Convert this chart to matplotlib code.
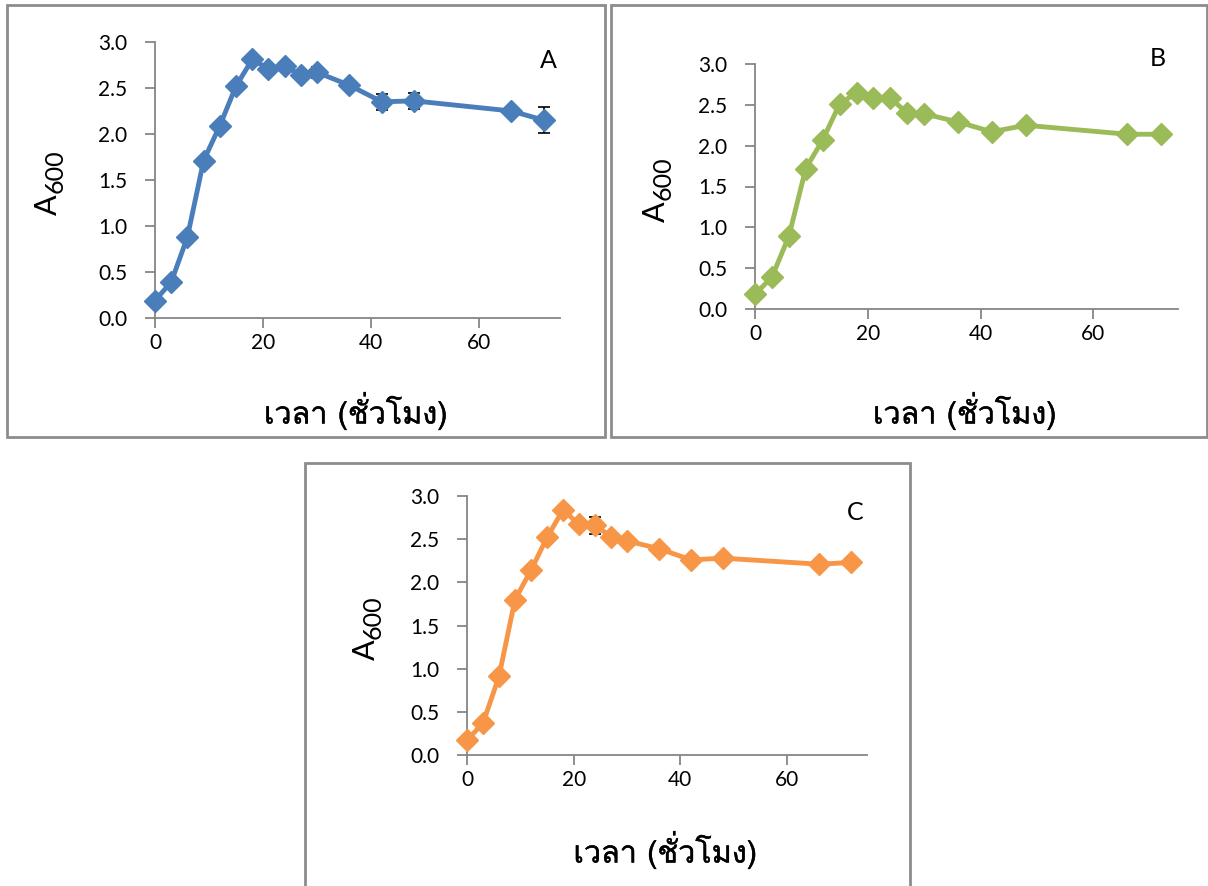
import matplotlib
matplotlib.use('Agg')
import matplotlib.pyplot as plt
from matplotlib.patches import Rectangle
import matplotlib.patheffects as pe

plt.rcParams['font.family'] = ['Lato', 'Loma', 'DejaVu Sans']

W, H = 1208, 886

hours = [0, 3, 6, 9, 12, 15, 18, 21, 24, 27, 30, 36, 42, 48, 66, 72]
a600_A = [0.19, 0.39, 0.88, 1.71, 2.09, 2.52, 2.81, 2.71, 2.74, 2.64, 2.67, 2.53, 2.35, 2.36, 2.25, 2.15]
err_A = [0, 0, 0, 0, 0, 0, 0, 0, 0, 0, 0.06, 0, 0.09, 0.09, 0, 0.14]
a600_B = [0.18, 0.39, 0.89, 1.72, 2.07, 2.51, 2.65, 2.58, 2.58, 2.40, 2.39, 2.29, 2.17, 2.25, 2.14, 2.14]
err_B = [0, 0, 0, 0, 0, 0, 0, 0.03, 0, 0, 0, 0, 0, 0, 0, 0]
a600_C = [0.17, 0.37, 0.91, 1.80, 2.14, 2.52, 2.84, 2.67, 2.66, 2.53, 2.48, 2.39, 2.26, 2.28, 2.21, 2.23]
err_C = [0, 0, 0, 0, 0, 0.03, 0.03, 0, 0.10, 0.04, 0, 0, 0, 0, 0, 0]

xlabel = 'เวลา (ชั่วโมง)'
ylabel_main, ylabel_sub = 'A', '600'
yticks = [0.0, 0.5, 1.0, 1.5, 2.0, 2.5, 3.0]
xticks = [0, 20, 40, 60]

fig = plt.figure(figsize=(W / 100, H / 100), dpi=100)
renderer = fig.canvas.get_renderer()

def box(l, t, r, b):
    fig.add_artist(Rectangle((l / W, 1 - b / H), (r - l) / W, (b - t) / H,
                             transform=fig.transFigure, fill=False,
                             edgecolor='#8c8c8c', linewidth=2.0))

def ylab(x, ymid):
    # 'A' with a large subscript '600', rotated 90 degrees; x is the baseline of 'A'
    total = 70
    y0 = ymid + total / 2
    ta = fig.text(x / W, 1 - y0 / H, ylabel_main, fontsize=22, rotation=90,
                  rotation_mode='anchor', ha='left', va='baseline')
    ext = ta.get_window_extent(renderer)
    fig.text((x + 6) / W, ext.y1 / H + 1 / H, ylabel_sub, fontsize=18, rotation=90,
             rotation_mode='anchor', ha='left', va='baseline')

def panel(l, t, r, b, y, err, color, letter, letter_xy, ylab_x, xlab_y):
    ax = fig.add_axes([l / W, 1 - b / H, (r - l) / W, (b - t) / H])
    ax.errorbar(hours, y, yerr=err, fmt='none', ecolor='black', elinewidth=1.2,
                capsize=4, capthick=1.2, zorder=2)
    ax.plot(hours, y, color=color, lw=3.5, marker='D', ms=11, zorder=3, clip_on=False)
    ax.set_xlim(0, 75)
    ax.set_ylim(0, 3)
    ax.set_xticks(xticks)
    ax.set_yticks(yticks)
    ax.set_yticklabels(['%.1f' % v for v in yticks])
    for s in ['top', 'right']:
        ax.spines[s].set_visible(False)
    for s in ['left', 'bottom']:
        ax.spines[s].set_color('#868686')
        ax.spines[s].set_linewidth(1.3)
    ax.tick_params(axis='y', direction='out', length=7, width=1.3, color='#868686',
                   pad=13, labelsize=15)
    ax.tick_params(axis='x', direction='out', length=7, width=1.3, color='#868686',
                   pad=4, labelsize=15)
    ax.patch.set_alpha(0)
    fig.text(letter_xy[0] / W, 1 - letter_xy[1] / H, letter, fontsize=18,
             ha='center', va='center')
    ylab(ylab_x, (t + b) / 2)
    fig.text(((l + r) / 2 - 2) / W, 1 - xlab_y / H, xlabel, fontsize=22,
             ha='center', va='center', family=['Loma', 'Lato', 'DejaVu Sans'],
             path_effects=[pe.withStroke(linewidth=0.3, foreground='black')])
    return ax

box(7, 5, 605, 437)
box(611, 5, 1207, 437)
box(305, 463, 910, 890)

panel(155, 42, 560, 318, a600_A, err_A, '#4a7ebb', 'A', (548, 60), 57, 411)
panel(755, 64, 1178, 309, a600_B, err_B, '#9bbb59', 'B', (1158, 58), 665, 411)
panel(467, 496, 867, 755, a600_C, err_C, '#f79646', 'C', (855, 513), 375, 850)

fig.savefig('out.png', dpi=100)
